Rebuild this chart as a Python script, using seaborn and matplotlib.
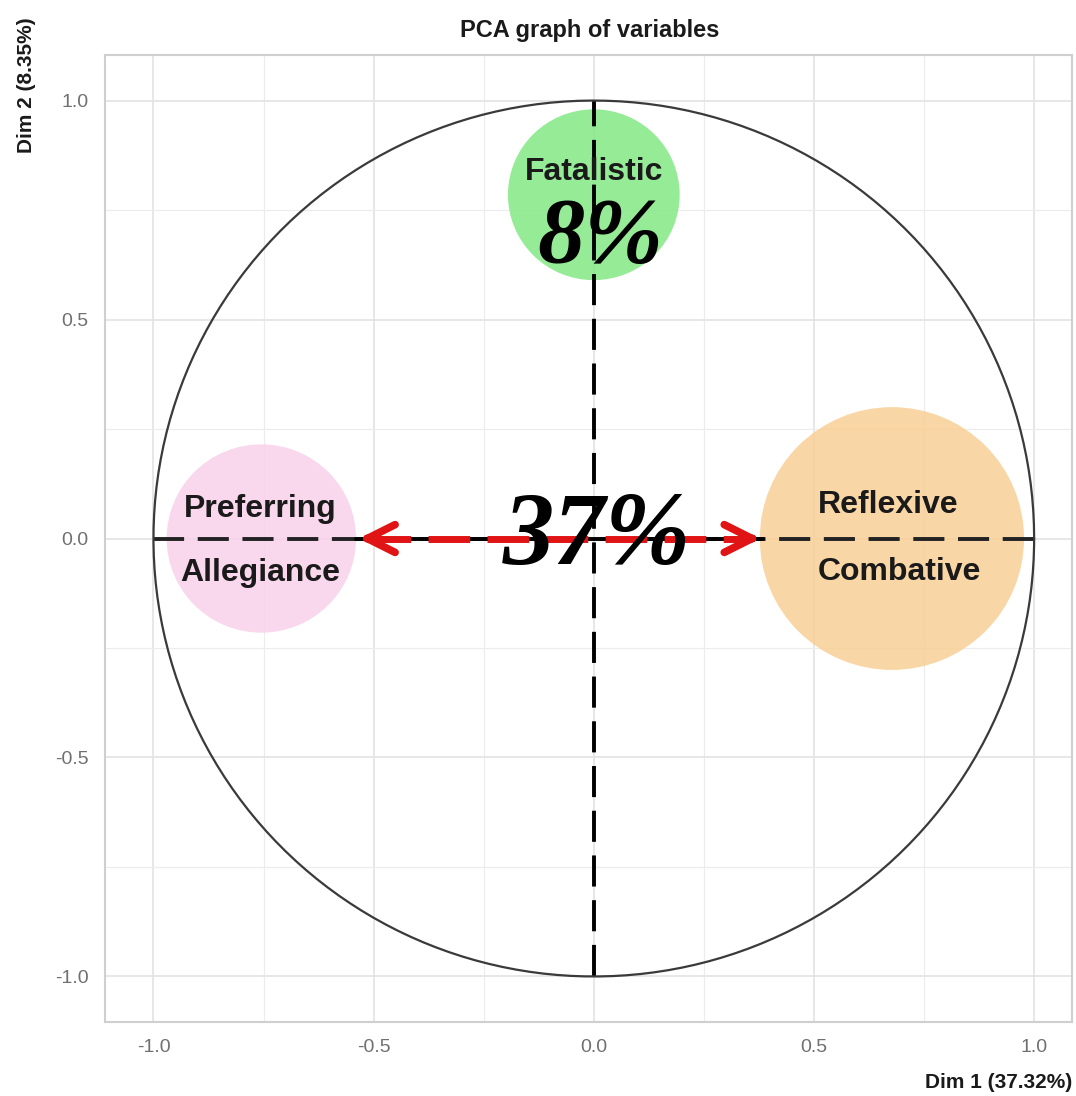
import numpy as np
import pandas as pd
import seaborn as sns
import matplotlib.pyplot as plt
from matplotlib.patches import Circle

# Groups shown as coloured bubbles on the correlation circle
groups = ["Fatalistic", "Preferring Allegiance", "Reflexive Combative"]
group_x = [0.0, -0.755, 0.677]
group_y = [0.785, 0.0, 0.0]
group_r = [0.195, 0.215, 0.30]
group_colors = ["#84e884", "#f8d0e9", "#f9cf95"]

# Explained variance of the dimensions
dim1_pct = 37.32
dim2_pct = 8.35

# Double arrow along Dim 1
arrow_from = -0.54
arrow_to = 0.385

sns.set_theme(style="whitegrid")
plt.rcParams['font.family'] = ['Liberation Sans', 'DejaVu Sans']

fig = plt.figure(figsize=(10.76, 10.96), dpi=100)
ax = fig.add_axes([0.0976, 0.0675, 0.8987, 0.8823])

# unit circle of correlations
theta = np.linspace(0, 2 * np.pi, 400)
circle_df = pd.DataFrame({"x": np.cos(theta), "y": np.sin(theta)})
sns.lineplot(data=circle_df, x="x", y="y", sort=False, estimator=None,
             color="#3a3a3a", lw=1.6, ax=ax, zorder=3)

# bubbles (under the lines)
for gx, gy, gr, gc in zip(group_x, group_y, group_r, group_colors):
    ax.add_patch(Circle((gx, gy), gr, facecolor=gc, edgecolor="none", alpha=0.85, zorder=1.5))

# dashed axes
ax.plot([-1, 1], [0, 0], color="#222222", lw=2.8, ls=(0, (8, 3.5)), zorder=2)
ax.plot([0, 0], [-1, 1], color="black", lw=2.8, ls=(0, (8, 3.5)), zorder=2)
ax.plot([arrow_from, arrow_to], [0, 0], color="black", lw=2.8, zorder=2)

# red double arrow
ax.plot([arrow_from + 0.03, arrow_to - 0.03], [0, 0], color="#e01414", lw=5,
        ls=(0, (6, 2.5)), zorder=5)
ax.annotate("", xy=(arrow_from, 0), xytext=(arrow_from + 0.05, 0),
            arrowprops=dict(arrowstyle="->", color="#e01414", lw=5.5, mutation_scale=50), zorder=6)
ax.annotate("", xy=(arrow_to, 0), xytext=(arrow_to - 0.05, 0),
            arrowprops=dict(arrowstyle="->", color="#e01414", lw=5.5, mutation_scale=50), zorder=6)

# labels
lab_kw = dict(fontsize=23, fontweight="bold", color="#1a1a1a", zorder=7)
ax.text(0.0, 0.819, "Fatalistic", ha="center", va="baseline", **lab_kw)
ax.text(-0.757, 0.048, "Preferring", ha="center", va="baseline", **lab_kw)
ax.text(-0.757, -0.098, "Allegiance", ha="center", va="baseline", **lab_kw)
ax.text(0.509, 0.059, "Reflexive", ha="left", va="baseline", **lab_kw)
ax.text(0.509, -0.094, "Combative", ha="left", va="baseline", **lab_kw)

big_kw = dict(family="Liberation Serif", style="italic", fontweight="bold", color="black", zorder=8)
ax.text(0.014, 0.632, f"{round(dim2_pct):.0f}%", ha="center", va="baseline", fontsize=68, **big_kw)
ax.text(0.007, -0.059, f"{round(dim1_pct):.0f}%", ha="center", va="baseline", fontsize=74, **big_kw)

# axes styling
ax.set_xlim(-1.11, 1.086)
ax.set_ylim(-1.104, 1.104)
ax.set_aspect("auto")
ax.set_xticks([-1.0, -0.5, 0.0, 0.5, 1.0])
ax.set_yticks([-1.0, -0.5, 0.0, 0.5, 1.0])
ax.set_xticks([-0.75, -0.25, 0.25, 0.75], minor=True)
ax.set_yticks([-0.75, -0.25, 0.25, 0.75], minor=True)
ax.set_xticklabels(["-1.0", "-0.5", "0.0", "0.5", "1.0"])
ax.set_yticklabels(["-1.0", "-0.5", "0.0", "0.5", "1.0"])
ax.grid(which="major", color="#e3e3e3", lw=1.2)
ax.grid(which="minor", color="#ececec", lw=0.8)
ax.tick_params(axis="both", which="both", length=0, labelsize=14, labelcolor="#707070", pad=12)
for s in ax.spines.values():
    s.set_color("#cfcfcf")
    s.set_linewidth(1.5)
ax.set_xlabel("")
ax.set_ylabel("")

fig.text(0.5483, 0.972, "PCA graph of variables", ha="center", va="center",
         fontsize=17, fontweight="bold", color="#1a1a1a")
fig.text(0.9963, 0.004, f"Dim 1 ({dim1_pct:.2f}%)", ha="right", va="bottom",
         fontsize=15, fontweight="bold", color="#1a1a1a")
fig.text(0.016, 0.984, f"Dim 2 ({dim2_pct:.2f}%)", ha="left", va="top", rotation=90,
         fontsize=15, fontweight="bold", color="#1a1a1a")

fig.savefig("out.png", dpi=100)
